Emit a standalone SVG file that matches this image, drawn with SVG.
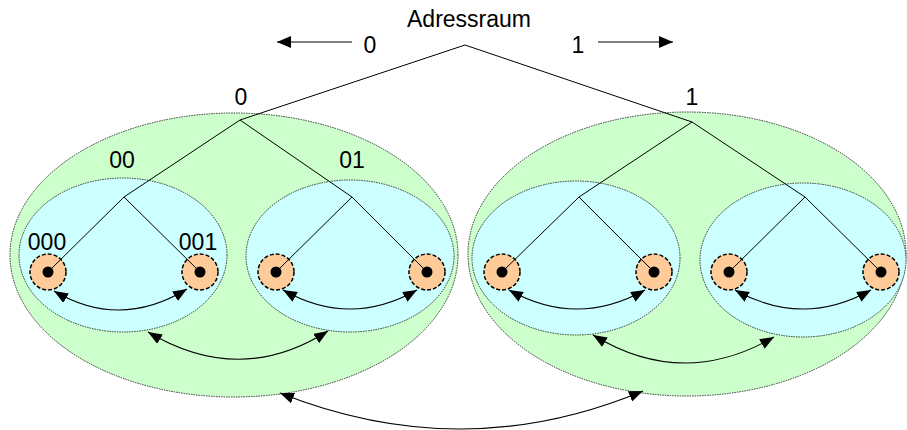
<svg xmlns="http://www.w3.org/2000/svg" width="907" height="430" viewBox="0 0 907 430">
<style>
.big{fill:#CCFFCC;stroke:#333;stroke-width:1;stroke-dasharray:1.5 1}
.sub{fill:#CCFFFF;stroke:#333;stroke-width:1;stroke-dasharray:1.5 1}
.leaf{fill:#FFCC99;stroke:#000;stroke-width:1.5;stroke-dasharray:4 2}
.dot{fill:#000}
.tree{fill:none;stroke:#000;stroke-width:1}
.arc{fill:none;stroke:#000;stroke-width:1.1;marker-start:url(#ah);marker-end:url(#ah)}
.lbl{font-family:"Liberation Sans",Arial,sans-serif;font-size:23px;fill:#000;text-anchor:middle}
</style>
<defs>
<marker id="ah" viewBox="0 0 14 11" refX="14" refY="5.5" markerWidth="14" markerHeight="11" markerUnits="userSpaceOnUse" orient="auto-start-reverse"><path d="M0,0 L14,5.5 L0,11 z" fill="#000"/></marker>
<marker id="ah2" viewBox="0 0 14 12" refX="14" refY="6" markerWidth="14" markerHeight="12" markerUnits="userSpaceOnUse" orient="auto"><path d="M0,0 L14,6 L0,12 z" fill="#000"/></marker>
</defs>
<g id="space0"><ellipse class="big" cx="234" cy="255" rx="224" ry="142"/></g>
<g id="space1"><ellipse class="big" cx="687" cy="254" rx="219" ry="142"/></g>
<g id="space00"><ellipse class="sub" cx="123" cy="255" rx="104" ry="77"/></g>
<g id="space01"><ellipse class="sub" cx="350" cy="256" rx="104" ry="76"/></g>
<g id="space10"><ellipse class="sub" cx="576" cy="258" rx="104" ry="77"/></g>
<g id="space11"><ellipse class="sub" cx="803" cy="260" rx="103" ry="77"/></g>
<g id="leaf000"><circle class="leaf" cx="48" cy="272" r="18"/></g>
<g id="leaf001"><circle class="leaf" cx="200" cy="272" r="18"/></g>
<g id="leaf010"><circle class="leaf" cx="276" cy="272" r="18"/></g>
<g id="leaf011"><circle class="leaf" cx="427" cy="272" r="18"/></g>
<g id="leaf100"><circle class="leaf" cx="502" cy="272" r="18"/></g>
<g id="leaf101"><circle class="leaf" cx="654" cy="272" r="18"/></g>
<g id="leaf110"><circle class="leaf" cx="729" cy="272" r="18"/></g>
<g id="leaf111"><circle class="leaf" cx="881" cy="272" r="18"/></g>
<g id="connectors">
<path class="tree" d="M240,120 L465,45 L692,122"/>
<path class="tree" d="M124,197 L240,120 L352,197"/>
<path class="tree" d="M48,272 L124,197 L200,272"/>
<path class="tree" d="M276,272 L352,197 L427,272"/>
<path class="tree" d="M579,197 L692,122 L805,197"/>
<path class="tree" d="M502,272 L579,197 L654,272"/>
<path class="tree" d="M729,272 L805,197 L881,272"/>
<line x1="352" y1="42" x2="277" y2="42" stroke="#000" stroke-width="1.2" marker-end="url(#ah2)"/>
<line x1="598" y1="42" x2="673" y2="42" stroke="#000" stroke-width="1.2" marker-end="url(#ah2)"/>
<path class="arc" d="M54,291 Q120,330 187,289"/>
<path class="arc" d="M283,290 Q350,328 417,290"/>
<path class="arc" d="M509,290 Q577,328 645,290"/>
<path class="arc" d="M735,290 Q803,328 871,290"/>
<path class="arc" d="M148,332 Q240,387 328,331"/>
<path class="arc" d="M593,335 Q683,390 774,337"/>
<path class="arc" d="M280,393 Q463,466 643,391"/>
</g>
<g id="dots">
<circle class="dot" cx="48" cy="272" r="5.5"/>
<circle class="dot" cx="200" cy="272" r="5.5"/>
<circle class="dot" cx="276" cy="272" r="5.5"/>
<circle class="dot" cx="427" cy="272" r="5.5"/>
<circle class="dot" cx="502" cy="272" r="5.5"/>
<circle class="dot" cx="654" cy="272" r="5.5"/>
<circle class="dot" cx="729" cy="272" r="5.5"/>
<circle class="dot" cx="881" cy="272" r="5.5"/>
</g>
<g id="labels">
<text class="lbl" x="469" y="27">Adressraum</text>
<text class="lbl" x="370" y="53">0</text>
<text class="lbl" x="578" y="53">1</text>
<text class="lbl" x="241" y="105">0</text>
<text class="lbl" x="692" y="105">1</text>
<text class="lbl" x="122" y="168">00</text>
<text class="lbl" x="352" y="168">01</text>
<text class="lbl" x="47" y="250">000</text>
<text class="lbl" x="198" y="250">001</text>
</g>
</svg>
